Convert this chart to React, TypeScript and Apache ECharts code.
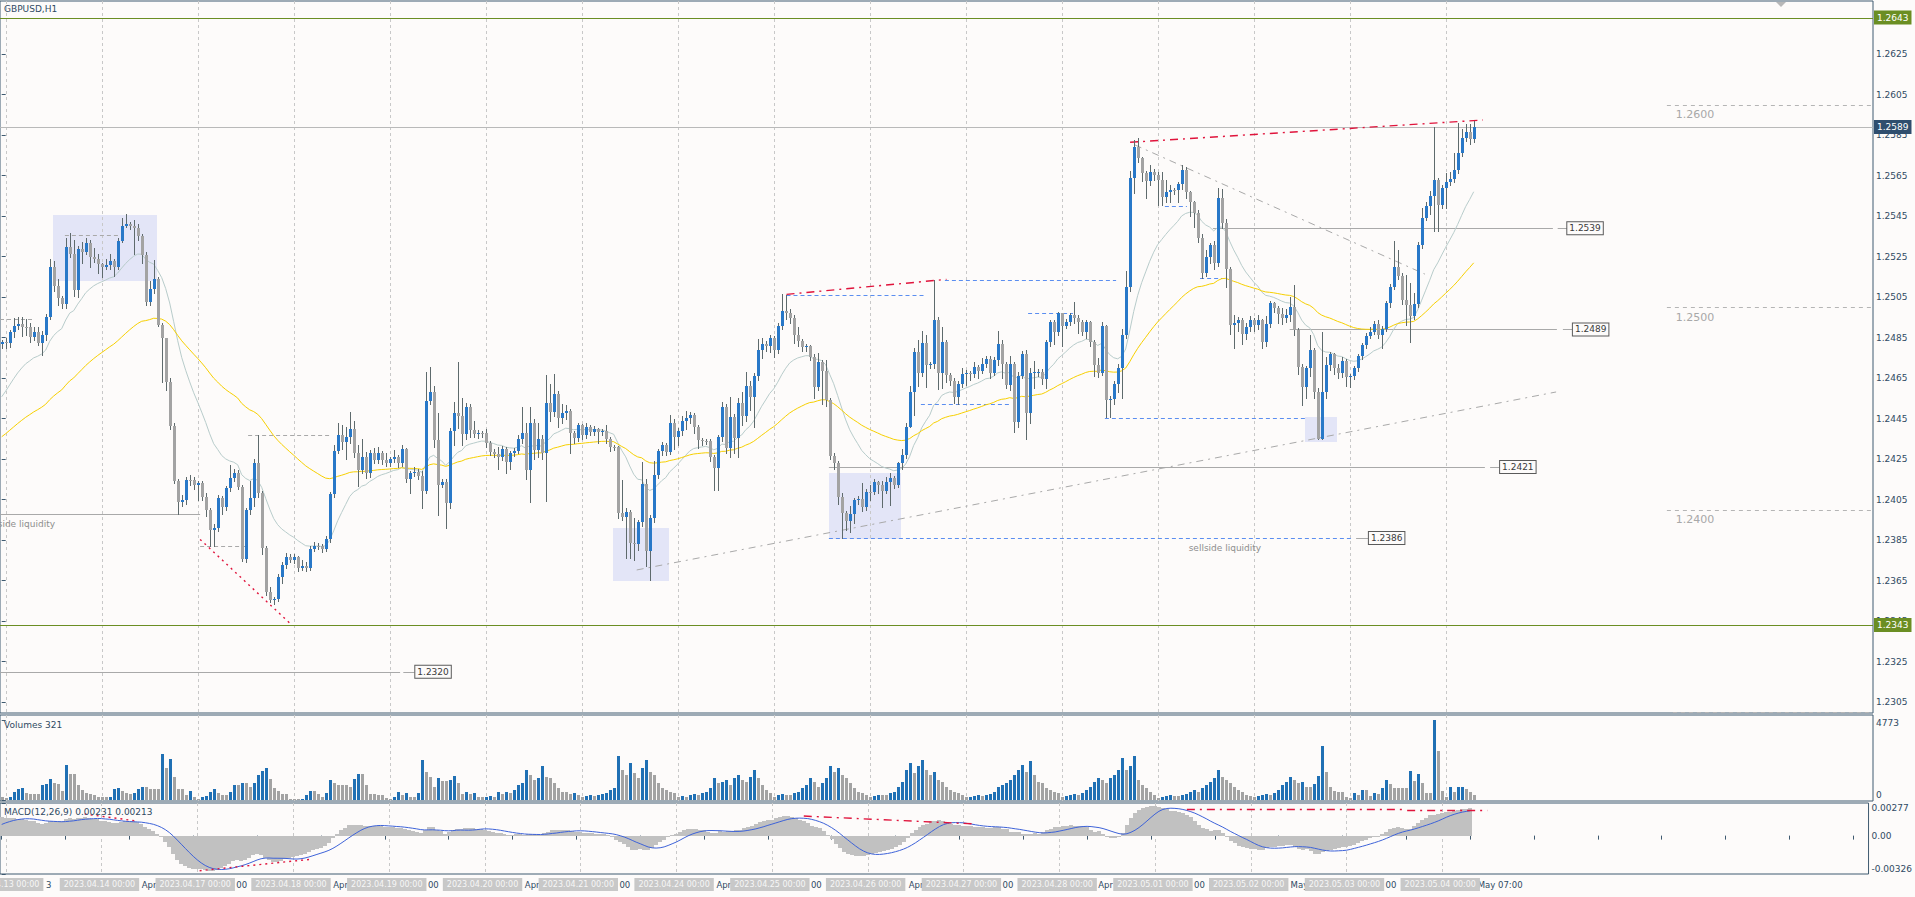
import React, { useEffect, useRef } from "react";
import * as echarts from "echarts";

// ---------------- DATA (GBPUSD H1, bar 0 = 2023.04.12 23:00) ----------------
const closes: number[] = [
  1.24830, 1.24824, 1.24879, 1.24907, 1.24917, 1.24903, 1.24900, 1.24854, 1.24879, 1.24824,
  1.24862, 1.24953, 1.25200, 1.25104, 1.25043, 1.25015, 1.25299, 1.25262, 1.25085, 1.25287,
  1.25274, 1.25318, 1.25246, 1.25239, 1.25213, 1.25200, 1.25206, 1.25229, 1.25200, 1.25328,
  1.25401, 1.25410, 1.25401, 1.25389, 1.25351, 1.25257, 1.25027, 1.25089, 1.25139, 1.24912,
  1.24846, 1.24632, 1.24415, 1.24143, 1.24039, 1.24048, 1.24146, 1.24146, 1.24122, 1.24133,
  1.24064, 1.23998, 1.23899, 1.23908, 1.24056, 1.24015, 1.24105, 1.24155, 1.24183, 1.24113,
  1.23755, 1.23998, 1.24059, 1.24229, 1.24080, 1.23809, 1.23595, 1.23554, 1.23557, 1.23666,
  1.23727, 1.23764, 1.23751, 1.23764, 1.23713, 1.23723, 1.23713, 1.23804, 1.23820, 1.23820,
  1.23804, 1.23853, 1.24077, 1.24291, 1.24369, 1.24336, 1.24361, 1.24398, 1.24278, 1.24196,
  1.24261, 1.24179, 1.24281, 1.24245, 1.24278, 1.24245, 1.24229, 1.24248, 1.24261, 1.24229,
  1.24298, 1.24151, 1.24179, 1.24187, 1.24166, 1.24094, 1.24536, 1.24582, 1.24344, 1.24122,
  1.24136, 1.24034, 1.24388, 1.24475, 1.24462, 1.24373, 1.24508, 1.24393, 1.24373, 1.24380,
  1.24378, 1.24331, 1.24286, 1.24275, 1.24258, 1.24298, 1.24237, 1.24278, 1.24290, 1.24349,
  1.24377, 1.24196, 1.24426, 1.24294, 1.24349, 1.24278, 1.24525, 1.24480, 1.24571, 1.24451,
  1.24479, 1.24487, 1.24377, 1.24352, 1.24418, 1.24368, 1.24410, 1.24385, 1.24396, 1.24385,
  1.24388, 1.24347, 1.24307, 1.24307, 1.23982, 1.23965, 1.23990, 1.23833, 1.23828, 1.23939,
  1.24125, 1.23797, 1.23960, 1.24171, 1.24289, 1.24319, 1.24286, 1.24429, 1.24360, 1.24390,
  1.24439, 1.24451, 1.24467, 1.24406, 1.24344, 1.24337, 1.24337, 1.24258, 1.24204, 1.24357,
  1.24508, 1.24303, 1.24459, 1.24352, 1.24525, 1.24464, 1.24610, 1.24558, 1.24660, 1.24788,
  1.24818, 1.24806, 1.24846, 1.24788, 1.24907, 1.24981, 1.24971, 1.24948, 1.24862, 1.24834,
  1.24805, 1.24806, 1.24755, 1.24607, 1.24727, 1.24686, 1.24541, 1.24265, 1.24229, 1.24064,
  1.23982, 1.23945, 1.23978, 1.24047, 1.24052, 1.24011, 1.24089, 1.24089, 1.24135, 1.24122,
  1.24093, 1.24138, 1.24158, 1.24122, 1.24229, 1.24270, 1.24410, 1.24582, 1.24778, 1.24676,
  1.24821, 1.24714, 1.24717, 1.24936, 1.24676, 1.24829, 1.24665, 1.24637, 1.24558, 1.24620,
  1.24670, 1.24673, 1.24670, 1.24703, 1.24686, 1.24719, 1.24742, 1.24676, 1.24739, 1.24818,
  1.24719, 1.24615, 1.24719, 1.24434, 1.24660, 1.24768, 1.24475, 1.24673, 1.24678, 1.24681,
  1.24643, 1.24829, 1.24928, 1.24879, 1.24969, 1.24907, 1.24925, 1.24961, 1.24945, 1.24928,
  1.24879, 1.24928, 1.24829, 1.24714, 1.24676, 1.24907, 1.24541, 1.24544, 1.24620, 1.24700,
  1.24862, 1.25101, 1.25639, 1.25792, 1.25735, 1.25661, 1.25623, 1.25669, 1.25654, 1.25628,
  1.25545, 1.25570, 1.25578, 1.25577, 1.25606, 1.25677, 1.25567, 1.25517, 1.25463, 1.25340,
  1.25167, 1.25249, 1.25307, 1.25216, 1.25540, 1.25414, 1.25188, 1.24912, 1.24920, 1.24936,
  1.24865, 1.24900, 1.24936, 1.24910, 1.24936, 1.24829, 1.24915, 1.25019, 1.24997, 1.24964,
  1.24948, 1.24961, 1.25002, 1.24887, 1.24706, 1.24607, 1.24698, 1.24788, 1.24582, 1.24347,
  1.24579, 1.24714, 1.24767, 1.24698, 1.24673, 1.24734, 1.24656, 1.24660, 1.24698, 1.24758,
  1.24813, 1.24857, 1.24879, 1.24915, 1.24862, 1.24892, 1.25022, 1.25101, 1.25196, 1.25155,
  1.25035, 1.25010, 1.24958, 1.25014, 1.25307, 1.25442, 1.25501, 1.25550, 1.25628, 1.25504,
  1.25590, 1.25620, 1.25633, 1.25677, 1.25759, 1.25833, 1.25866, 1.25830, 1.25891,
];
const highs: number[] = [
  1.2484, 1.2485, 1.24887, 1.24945, 1.24953, 1.2495, 1.2494, 1.2492, 1.2490, 1.2490,
  1.2488, 1.24965, 1.2524, 1.2523, 1.2514, 1.25055, 1.2534, 1.25364, 1.2533, 1.2530,
  1.2532, 1.2534, 1.2533, 1.2529, 1.2526, 1.2522, 1.2524, 1.2526, 1.2524, 1.2534,
  1.25438, 1.2546, 1.25418, 1.2543, 1.2541, 1.2536, 1.2527, 1.2513, 1.25235, 1.2515,
  1.2492, 1.2485, 1.2465, 1.2443, 1.2415, 1.2407, 1.2416, 1.2417, 1.2416, 1.2414,
  1.2414, 1.2408, 1.2401, 1.2393, 1.2407, 1.24065, 1.24115, 1.2422, 1.2420, 1.24195,
  1.2412, 1.2401, 1.2414, 1.2425, 1.2437, 1.2409, 1.2382, 1.2362, 1.2357, 1.2368,
  1.2374, 1.23785, 1.2378, 1.2378, 1.2377, 1.2375, 1.2374, 1.2382, 1.23838, 1.23835,
  1.2383, 1.2387, 1.24085, 1.24318, 1.2443, 1.2442, 1.2441, 1.24484, 1.2444, 1.2432,
  1.2435, 1.24285, 1.24295, 1.24305, 1.2431, 1.2429, 1.2428, 1.2426, 1.24295, 1.2427,
  1.2432, 1.24305, 1.2419, 1.2421, 1.2420, 1.2419, 1.24681, 1.24706, 1.2461, 1.24475,
  1.2415, 1.2415, 1.24405, 1.2453, 1.24727, 1.2455, 1.24525, 1.2452, 1.2444, 1.24395,
  1.2439, 1.2440, 1.2434, 1.2430, 1.2431, 1.24315, 1.2431, 1.2429, 1.24305, 1.2437,
  1.24505, 1.2443, 1.24505, 1.2445, 1.2443, 1.2437, 1.24665, 1.2462, 1.2467, 1.24585,
  1.2452, 1.24515, 1.24495, 1.2439, 1.2443, 1.24425, 1.2443, 1.2442, 1.24415, 1.24405,
  1.2440, 1.2442, 1.2436, 1.2432, 1.24315, 1.24145, 1.2401, 1.2400, 1.2396, 1.2395,
  1.24237, 1.2415, 1.23975, 1.2424, 1.2430, 1.24335, 1.2433, 1.24467, 1.2445, 1.24405,
  1.2446, 1.24485, 1.2448, 1.24475, 1.2442, 1.24355, 1.2435, 1.2435, 1.2427, 1.2437,
  1.2453, 1.2452, 1.24555, 1.2447, 1.2455, 1.2458, 1.2468, 1.24635, 1.24675, 1.24844,
  1.24848, 1.24835, 1.2486, 1.24855, 1.2492, 1.25063, 1.2506, 1.2499, 1.2496, 1.2490,
  1.24845, 1.2482, 1.24815, 1.2477, 1.24775, 1.2474, 1.24738, 1.2455, 1.2428, 1.2424,
  1.2408, 1.23995, 1.2402, 1.24055, 1.24065, 1.2413, 1.2410, 1.2412, 1.2415, 1.2414,
  1.24143, 1.2416, 1.2418, 1.24165, 1.24235, 1.2430, 1.2443, 1.2461, 1.2480, 1.2484,
  1.2488, 1.2486, 1.2473, 1.25134, 1.2495, 1.2490, 1.2484, 1.24675, 1.2465, 1.24635,
  1.2470, 1.2469, 1.24685, 1.2473, 1.24715, 1.2475, 1.24758, 1.2476, 1.24755, 1.2488,
  1.2484, 1.2473, 1.2476, 1.2473, 1.2468, 1.24785, 1.2479, 1.2470, 1.24735, 1.24695,
  1.24695, 1.2484, 1.24935, 1.24935, 1.24975, 1.24973, 1.2494, 1.2497, 1.25027, 1.2496,
  1.24935, 1.24935, 1.2493, 1.2484, 1.2475, 1.24925, 1.2491, 1.2456, 1.24635, 1.2472,
  1.2489, 1.2518, 1.2567, 1.25825, 1.25833, 1.2574, 1.2567, 1.2570, 1.2568, 1.25665,
  1.25665, 1.2563, 1.25605, 1.2559, 1.2562, 1.2570, 1.2569, 1.25575, 1.25525, 1.2548,
  1.2536, 1.2528, 1.25315, 1.25325, 1.25586, 1.25585, 1.25435, 1.2520, 1.24962, 1.2495,
  1.24948, 1.2492, 1.24955, 1.24945, 1.2496, 1.2494, 1.24955, 1.2503, 1.25025, 1.25005,
  1.24995, 1.2499, 1.2505, 1.2511, 1.24895, 1.2472, 1.2471, 1.2486, 1.2480, 1.2460,
  1.24879, 1.24755, 1.2478, 1.24775, 1.2472, 1.24755, 1.24745, 1.2467, 1.2471, 1.2477,
  1.24825, 1.2487, 1.2490, 1.2493, 1.24935, 1.24905, 1.2503, 1.25115, 1.25326, 1.2528,
  1.2517, 1.2516, 1.2512, 1.2507, 1.2532, 1.2549, 1.2552, 1.25575, 1.25891, 1.2564,
  1.25605, 1.2566, 1.25665, 1.2576, 1.25907, 1.2588, 1.25905, 1.25905, 1.2592,
];
const lows: number[] = [
  1.24796, 1.2480, 1.24805, 1.24854, 1.2489, 1.24855, 1.2486, 1.2483, 1.2484, 1.24815,
  1.24764, 1.2484, 1.2494, 1.2508, 1.2501, 1.24994, 1.24994, 1.2525, 1.25055, 1.2505,
  1.2522, 1.2526, 1.2520, 1.25225, 1.2517, 1.2515, 1.2519, 1.2519, 1.25155, 1.2519,
  1.2532, 1.25395, 1.25385, 1.2526, 1.2533, 1.2522, 1.2501, 1.2501, 1.2507, 1.24905,
  1.2463, 1.2459, 1.2440, 1.2413, 1.23978, 1.2402, 1.2403, 1.2412, 1.2410, 1.2405,
  1.2405, 1.2397, 1.2382, 1.2382, 1.23895, 1.2398, 1.2400, 1.2409, 1.2414, 1.2410,
  1.23745, 1.2374, 1.2398, 1.2402, 1.2406, 1.2378, 1.2358, 1.23543, 1.23535, 1.2355,
  1.2364, 1.2371, 1.2374, 1.23735, 1.23695, 1.2370, 1.23695, 1.2370, 1.23795, 1.23805,
  1.2379, 1.23795, 1.2384, 1.2406, 1.2428, 1.2430, 1.2425, 1.2433, 1.2426, 1.24115,
  1.2418, 1.24155, 1.2416, 1.2423, 1.2423, 1.24225, 1.24215, 1.24215, 1.24235, 1.2421,
  1.24215, 1.24135, 1.2408, 1.24165, 1.2415, 1.24006, 1.2408, 1.2452, 1.2431, 1.23973,
  1.2411, 1.23908, 1.2401, 1.2432, 1.24405, 1.2432, 1.2435, 1.2436, 1.2436, 1.24355,
  1.2436, 1.2431, 1.2427, 1.2426, 1.2420, 1.24245, 1.2418, 1.2420, 1.24265, 1.2428,
  1.2433, 1.2415, 1.2404, 1.2425, 1.2426, 1.2425, 1.24045, 1.2444, 1.2446, 1.2441,
  1.2443, 1.2445, 1.2428, 1.2433, 1.2434, 1.2435, 1.24355, 1.2437, 1.2437, 1.2433,
  1.2437, 1.2433, 1.2429, 1.24295, 1.2396, 1.2395, 1.2376, 1.23762, 1.2375, 1.2380,
  1.2392, 1.23722, 1.23652, 1.2394, 1.24155, 1.2427, 1.2427, 1.24275, 1.2430, 1.2432,
  1.2437, 1.2440, 1.2443, 1.2438, 1.24305, 1.2432, 1.24325, 1.2424, 1.24095, 1.24095,
  1.2434, 1.2428, 1.2426, 1.2428, 1.2426, 1.2442, 1.2444, 1.2449, 1.2441, 1.2464,
  1.2475, 1.24785, 1.2478, 1.24755, 1.24775, 1.2489, 1.2494, 1.2492, 1.24825, 1.2481,
  1.24785, 1.24785, 1.2474, 1.2455, 1.2459, 1.2452, 1.2451, 1.2425, 1.2420, 1.2403,
  1.23858, 1.2390, 1.2389, 1.23935, 1.2403, 1.23995, 1.23998, 1.2405, 1.24075, 1.2408,
  1.24015, 1.2408, 1.24025, 1.24105, 1.2411, 1.2420, 1.24255, 1.2448, 1.24468, 1.2461,
  1.2466, 1.24605, 1.2470, 1.2470, 1.24595, 1.2460, 1.2463, 1.24615, 1.24525, 1.2452,
  1.24605, 1.24615, 1.2464, 1.24655, 1.2465, 1.24675, 1.24705, 1.2465, 1.24665, 1.24715,
  1.2465, 1.2460, 1.2459, 1.24385, 1.2441, 1.2465, 1.24347, 1.2443, 1.2460, 1.2466,
  1.2462, 1.2460, 1.2481, 1.2482, 1.2486, 1.2481, 1.24895, 1.2491, 1.2492, 1.2487,
  1.2486, 1.2485, 1.2481, 1.2466, 1.24655, 1.24665, 1.24459, 1.24455, 1.2452, 1.2458,
  1.24549, 1.24846, 1.2508, 1.25565, 1.25715, 1.25625, 1.25538, 1.25605, 1.2563, 1.25504,
  1.25505, 1.2552, 1.2552, 1.2556, 1.2552, 1.25585, 1.2554, 1.2545, 1.25395, 1.2532,
  1.25145, 1.25155, 1.2522, 1.2519, 1.25205, 1.2539, 1.2510, 1.24865, 1.24796, 1.2488,
  1.2482, 1.24845, 1.2488, 1.2488, 1.2489, 1.2480, 1.2481, 1.2490, 1.24975, 1.2492,
  1.24915, 1.24925, 1.2493, 1.2486, 1.2467, 1.24516, 1.2455, 1.2466, 1.2455, 1.24347,
  1.24347, 1.2455, 1.2469, 1.2467, 1.2465, 1.24655, 1.2461, 1.24607, 1.24645, 1.24685,
  1.24745, 1.2480, 1.2485, 1.24865, 1.2485, 1.2480, 1.2488, 1.2500, 1.2509, 1.2514,
  1.25015, 1.2491, 1.24826, 1.2494, 1.2500, 1.2529, 1.2543, 1.2546, 1.25376, 1.25375,
  1.2549, 1.2549, 1.25605, 1.2562, 1.2566, 1.25745, 1.2582, 1.25805, 1.25815,
];
const firstOpen = 1.2482;

const volumes: number[] = [
  160, 100, 200, 500, 640, 700, 400, 360, 360, 360,
  900, 960, 1230, 1000, 960, 560, 2090, 1550, 1550, 900,
  600, 440, 360, 280, 200, 160, 160, 200, 640, 700,
  560, 400, 360, 440, 640, 760, 760, 680, 640, 640,
  2750, 1890, 2430, 1350, 640, 640, 300, 540, 200, 40,
  200, 240, 500, 640, 400, 300, 300, 500, 900, 900,
  1030, 1030, 760, 1030, 1490, 1750, 1890, 1230, 700, 560,
  360, 360, 60, 60, 60, 80, 300, 560, 560, 360,
  200, 400, 1190, 1030, 900, 900, 900, 760, 1230, 1550,
  1550, 900, 360, 360, 300, 300, 100, 60, 200, 460,
  300, 440, 200, 200, 400, 2390, 1690, 1350, 760, 1290,
  1150, 1150, 1190, 1430, 1000, 360, 500, 360, 400, 200,
  160, 200, 240, 160, 500, 350, 500, 400, 600, 900,
  1000, 1800, 1500, 1200, 1300, 2000, 1400, 1300, 1000, 700,
  500, 450, 350, 400, 300, 150, 250, 300, 250, 300,
  350, 400, 600, 700, 2600, 1800, 1500, 2200, 1600, 1300,
  1900, 2400, 1700, 1500, 1000, 700, 600, 500, 400, 200,
  250, 200, 300, 350, 300, 400, 500, 700, 1300, 1000,
  1100, 1200, 900, 1300, 1500, 1200, 1100, 1400, 1800, 1300,
  900, 600, 400, 150, 300, 350, 300, 300, 400, 500,
  700, 900, 1300, 1100, 800, 1000, 1300, 2000, 1700, 1900,
  1500, 1300, 1000, 700, 500, 400, 300, 150, 250, 300,
  300, 300, 400, 500, 800, 1100, 1800, 2200, 1600, 2000,
  2400, 1800, 1500, 1700, 1200, 1100, 800, 600, 500, 400,
  300, 150, 200, 250, 300, 250, 300, 350, 500, 800,
  900, 1000, 1200, 1500, 1800, 2100, 1700, 2300, 1500, 1100,
  1000, 700, 600, 500, 400, 150, 250, 300, 350, 300,
  400, 600, 800, 1100, 1300, 1200, 1000, 1300, 1500, 1800,
  2500, 1800, 2000, 2600, 1200, 900, 700, 500, 300, 100,
  200, 250, 300, 250, 250, 300, 350, 500, 600, 500,
  700, 900, 1100, 1300, 1800, 1400, 1200, 1000, 800, 600,
  500, 300, 250, 150, 250, 300, 350, 300, 400, 600,
  900, 1100, 1400, 1200, 1000, 1090, 800, 800, 950, 1430,
  3240, 1690, 800, 540, 500, 500, 200, 140, 440, 300,
  600, 600, 260, 400, 360, 740, 1190, 950, 740, 740,
  740, 740, 1750, 1150, 1550, 1000, 440, 440, 4773, 2950,
  540, 200, 800, 500, 760, 800, 640, 500, 321,
];

const maFastInit = 1.24525;
const maSlowInit = 1.24344;
const ema12Init = 1.2474;
const ema26Init = 1.2458;
const macdSeed = [0.0003, 0.0005, 0.0006, 0.0008, 0.001, 0.0011, 0.0013, 0.0014];

// axes / labels
const priceTicks = [1.2305, 1.2325, 1.2345, 1.2365, 1.2385, 1.2405, 1.2425, 1.2445, 1.2465, 1.2485, 1.2505, 1.2525, 1.2545, 1.2565, 1.2585, 1.2605, 1.2625];
const volTicks = [0, 4773];
const volTickTexts = ["0", "4773"];
const macdTicks = [-0.00326, 0, 0.00277];
const macdTickTexts = ["-0.00326", "0.00", "0.00277"];
const dayStartBars = [1, 25, 49, 73, 97, 121, 145, 169, 193, 217, 241, 265, 289, 313, 337, 361];
const dayLabels = ["2023.04.13 00:00", "2023.04.14 00:00", "2023.04.17 00:00", "2023.04.18 00:00", "2023.04.19 00:00", "2023.04.20 00:00", "2023.04.21 00:00", "2023.04.24 00:00", "2023.04.25 00:00", "2023.04.26 00:00", "2023.04.27 00:00", "2023.04.28 00:00", "2023.05.01 00:00", "2023.05.02 00:00", "2023.05.03 00:00", "2023.05.04 00:00"];
const timeTickBars = [0, 16, 32, 48, 64, 80, 96, 112, 128, 144, 160, 176, 192, 208, 224, 240, 256, 272, 288, 304, 320, 336, 352, 368, 384, 400, 416, 432, 448, 464];
const fragBars = [11.1, 35.1, 58.8, 83.1, 106.8, 131.1, 154.8, 179.1, 202.8, 227.3, 250.8, 274.8, 298.8, 323.0, 346.8, 369.9];
const fragTexts = ["3", "Apr", "00", "Apr", "00", "Apr", "00", "Apr", "00", "Apr", "00", "Apr", "00", "May", "00", "May 07:00"];

// drawn objects: [bar1, price1, bar2, price2, style]
const segments: number[][] = [
  [-0.425, 1.2643, 467.825, 1.2643, 4],
  [-0.425, 1.2343, 467.825, 1.2343, 4],
  [-0.425, 1.2589, 467.825, 1.2589, 8],
  [302.8, 1.2539, 387.8, 1.2539, 0], [389, 1.2539, 391.3, 1.2539, 0],
  [322, 1.2489, 388.8, 1.2489, 0], [390.3, 1.2489, 392.6, 1.2489, 0],
  [206.8, 1.2421, 370.8, 1.2421, 0], [372.1, 1.2421, 374.4, 1.2421, 0],
  [206.8, 1.2386, 337.6, 1.2386, 2], [338.6, 1.2386, 341.6, 1.2386, 0],
  [-0.425, 1.232, 99.6, 1.232, 0], [100.4, 1.232, 103.2, 1.232, 0],
  [-0.425, 1.23978, 49.6, 1.23978, 0],
  [416.3, 1.26, 467.825, 1.26, 7], [416.3, 1.25, 467.825, 1.25, 7],
  [416.3, 1.24, 467.825, 1.24, 7], [417.8, 1.23, 467.825, 1.23, 7],
  [15.8, 1.25356, 29.6, 1.25356, 1], [-0.425, 1.24941, 7.8, 1.24941, 1],
  [61.6, 1.24368, 82.1, 1.24368, 1], [49.6, 1.2382, 61.3, 1.2382, 1],
  [49.6, 1.23853, 72, 1.2344, 6],
  [196.2, 1.25063, 236.2, 1.25137, 3],
  [282.1, 1.25814, 370.3, 1.25924, 3],
  [158.75, 1.23702, 388.6, 1.24581, 5],
  [283.3, 1.25801, 355.8, 1.25163, 5],
  [196.2, 1.2506, 231.2, 1.2506, 2], [235.8, 1.25134, 278.6, 1.25134, 2],
  [229.8, 1.2452, 252.5, 1.2452, 2], [256.6, 1.24973, 267.8, 1.24973, 2],
  [275.8, 1.24451, 325.8, 1.24451, 2], [290.8, 1.25499, 296.3, 1.25499, 2],
  [299.6, 1.25144, 305.1, 1.25144, 2],
];
const zones: number[][] = [
  [12.75, 1.25455, 38.75, 1.2513],
  [152.75, 1.23911, 166.8, 1.23649],
  [206.8, 1.24182, 224.8, 1.23858],
  [325.9, 1.24456, 333.8, 1.24331],
];
const macdSegments: number[][] = [
  [20.8, 0.00183, 33.3, 0.00127, 6],
  [49.6, -0.00298, 77.5, -0.00201, 6],
  [201, 0.00166, 244, 0.00099, 3],
  [297, 0.00223, 351.5, 0.00223, 3],
  [352.2, 0.00215, 372.3, 0.00215, 3],
];
const levelBoxes = [
  { bar: 391.4, price: 1.2539, text: "1.2539" },
  { bar: 392.8, price: 1.2489, text: "1.2489" },
  { bar: 374.6, price: 1.2421, text: "1.2421" },
  { bar: 341.8, price: 1.2386, text: "1.2386" },
  { bar: 103.4, price: 1.232, text: "1.2320" },
];
const roundLevels = [1.26, 1.25, 1.24];

// ---------------- STYLE ----------------
const FONT = "'DejaVu Sans', Verdana, sans-serif";
const BG = "#fdfbfa";
const BORDER = "#3f5a70";
const AXIS_TEXT = "#2f4a63";
const UP = "#2878c8";
const DOWN = "#a3a3a3";
const WICK = "#5e6a6c";
const VOL_UP = "#2070b4";
const SEG_STYLES = [
  { c: "#a9a9a9", w: 1, d: null },
  { c: "#a9a9a9", w: 1, d: [4, 3] },
  { c: "#5b8ef0", w: 1, d: [4, 3] },
  { c: "#e0143c", w: 1.4, d: [8, 5, 2, 5] },
  { c: "#6b8e23", w: 1, d: null },
  { c: "#a9a9a9", w: 1, d: [7, 5, 2, 5] },
  { c: "#e0143c", w: 1.4, d: [2, 4] },
  { c: "#b5b5b5", w: 1, d: [4, 4] },
  { c: "#b9b9b9", w: 1, d: null },
];
const XMIN = -0.425;
const XMAX = 467.825;

function ema(src: number[], period: number, init: number) {
  const a = 2 / (period + 1);
  let p = init;
  return src.map((v) => (p = p + a * (v - p)));
}

function nearestText(v: number, vals: number[], texts: string[]) {
  let best = 0;
  for (let k = 1; k < vals.length; k++) {
    if (Math.abs(vals[k] - v) < Math.abs(vals[best] - v)) best = k;
  }
  return texts[best];
}

export default function App() {
  const ref = useRef<HTMLDivElement>(null);
  useEffect(() => {
    const el = ref.current!;
    const chart = echarts.init(el, null, { renderer: "svg" });

    const opens = closes.map((c, i) => (i === 0 ? firstOpen : closes[i - 1]));
    const candleData = closes.map((c, i) => [i, opens[i], c, Math.min(lows[i], opens[i], c), Math.max(highs[i], opens[i], c)]);
    const maFast = ema(closes, 18, maFastInit);
    const maSlow = ema(closes, 60, maSlowInit);
    const e12 = ema(closes, 12, ema12Init);
    const e26 = ema(closes, 26, ema26Init);
    const macd = e12.map((v, i) => v - e26[i]);
    const all = macdSeed.concat(macd);
    const signal = macd.map((_, i) => {
      let s = 0;
      for (let k = 0; k < 9; k++) s += all[i + macdSeed.length - k];
      return s / 9;
    });
    const volData = volumes.map((v, i) => [i, v, i > 0 && v > volumes[i - 1] ? 1 : 0]);

    // keep the edge labels of the lower panels inside their panels
    const VOL_PX = (5071 + 60) / 86;
    const MACD_PX = (0.00277 + 0.00326) / 71;
    const volLabelVals = [volTicks[0] + 5 * VOL_PX, volTicks[1] - 3 * VOL_PX];
    const macdLabelVals = [macdTicks[0] + 5 * MACD_PX, macdTicks[1], macdTicks[2] - 5 * MACD_PX];

    const dayLineSeries = (g: number, yv: number) => ({
      type: "custom",
      xAxisIndex: g,
      yAxisIndex: g,
      silent: true,
      z: 1,
      data: dayStartBars.map((b) => [b, yv]),
      encode: { x: 0, y: 1 },
      renderItem: (params: any, api: any) => {
        const x = Math.round(api.coord([api.value(0), api.value(1)])[0]) + 0.5;
        const cs = params.coordSys;
        return {
          type: "line",
          shape: { x1: x, y1: cs.y, x2: x, y2: cs.y + cs.height },
          style: { stroke: "#c8c8c8", lineWidth: 1, lineDash: [3, 3] },
        };
      },
    });
    const segSeries = (g: number, data: number[][], z: number) => ({
      type: "custom",
      xAxisIndex: g,
      yAxisIndex: g,
      silent: true,
      clip: true,
      z,
      data,
      encode: { x: [0, 2], y: [1, 3] },
      renderItem: (params: any, api: any) => {
        const st = SEG_STYLES[api.value(4)];
        const p1 = api.coord([api.value(0), api.value(1)]);
        const p2 = api.coord([api.value(2), api.value(3)]);
        let y1 = p1[1], y2 = p2[1];
        if (Math.abs(y1 - y2) < 0.01) { y1 = y2 = Math.round(y1) + 0.5; }
        return {
          type: "line",
          shape: { x1: p1[0], y1, x2: p2[0], y2 },
          style: { stroke: st.c, lineWidth: st.w, lineDash: st.d || undefined, fill: null },
        };
      },
    });

    const xAxes = [0, 1, 2].map((g) => ({
      type: "value",
      gridIndex: g,
      min: XMIN,
      max: XMAX,
      axisLine: { show: false },
      splitLine: { show: false },
      axisTick: g === 2
        ? { show: true, customValues: timeTickBars, length: 4, lineStyle: { color: BORDER } }
        : { show: false },
      axisLabel: { show: false },
    }));
    const yAxisBase = (g: number, min: number, max: number, ticks: number[], labelVals: number[], fmt: (v: number) => string) => ({
      type: "value",
      gridIndex: g,
      position: "right",
      min,
      max,
      axisLine: { show: false },
      splitLine: { show: false },
      axisTick: { show: true, customValues: ticks, length: 4, lineStyle: { color: BORDER } },
      axisLabel: { show: true, customValues: labelVals, formatter: fmt, fontFamily: FONT, fontSize: 9, color: AXIS_TEXT, margin: 3 },
    });

    const option: any = {
      animation: false,
      backgroundColor: BG,
      grid: [
        { left: 0, top: 1, width: 1873, height: 712, show: true, borderColor: BORDER, borderWidth: 1, backgroundColor: "transparent" },
        { left: 0, top: 715, width: 1873, height: 86, show: true, borderColor: BORDER, borderWidth: 1, backgroundColor: "transparent" },
        { left: 0, top: 803, width: 1873, height: 71, show: true, borderColor: BORDER, borderWidth: 1, backgroundColor: "transparent" },
      ],
      xAxis: xAxes,
      yAxis: [
        yAxisBase(0, 1.2299568, 1.2651173, priceTicks, priceTicks, (v) => v.toFixed(4)),
        yAxisBase(1, -60, 5071, volTicks, volLabelVals, (v) => nearestText(v, volLabelVals, volTickTexts)),
        yAxisBase(2, -0.00326, 0.00277, macdTicks, macdLabelVals, (v) => nearestText(v, macdLabelVals, macdTickTexts)),
      ],
      series: [
        {
          type: "custom",
          xAxisIndex: 0,
          yAxisIndex: 0,
          silent: true,
          z: 0,
          data: zones,
          encode: { x: [0, 2], y: [1, 3] },
          renderItem: (params: any, api: any) => {
            const a = api.coord([api.value(0), api.value(1)]);
            const b = api.coord([api.value(2), api.value(3)]);
            return {
              type: "rect",
              shape: { x: Math.round(a[0]), y: Math.round(a[1]), width: Math.round(b[0] - a[0]), height: Math.round(b[1] - a[1]) },
              style: { fill: "#e3e5f7" },
            };
          },
        },
        dayLineSeries(0, 1.245),
        dayLineSeries(1, 1000),
        dayLineSeries(2, 0),
        segSeries(0, segments, 2),
        {
          type: "line",
          xAxisIndex: 0,
          yAxisIndex: 0,
          data: maFast.map((v, i) => [i, v]),
          showSymbol: false,
          silent: true,
          z: 3,
          lineStyle: { color: "#b8cccb", width: 1 },
        },
        {
          type: "line",
          xAxisIndex: 0,
          yAxisIndex: 0,
          data: maSlow.map((v, i) => [i, v]),
          showSymbol: false,
          silent: true,
          z: 3,
          lineStyle: { color: "#f7d000", width: 1 },
        },
        {
          type: "custom",
          xAxisIndex: 0,
          yAxisIndex: 0,
          silent: true,
          clip: true,
          z: 4,
          data: candleData,
          encode: { x: 0, y: [1, 2, 3, 4] },
          renderItem: (params: any, api: any) => {
            const i = api.value(0), o = api.value(1), c = api.value(2), l = api.value(3), h = api.value(4);
            const po = api.coord([i, o]);
            const yc = api.coord([i, c])[1];
            const yl = api.coord([i, l])[1];
            const yh = api.coord([i, h])[1];
            const cx = Math.round(po[0]);
            const top = Math.round(Math.min(po[1], yc));
            const bot = Math.round(Math.max(po[1], yc));
            return {
              type: "group",
              children: [
                { type: "line", shape: { x1: cx + 0.5, y1: Math.round(yh), x2: cx + 0.5, y2: Math.round(yl) + 1 }, style: { stroke: WICK, lineWidth: 1 } },
                { type: "rect", shape: { x: cx - 1, y: top, width: 3, height: Math.max(1, bot - top) }, style: { fill: c > o ? UP : DOWN } },
              ],
            };
          },
        },
        {
          type: "custom",
          xAxisIndex: 1,
          yAxisIndex: 1,
          silent: true,
          clip: true,
          z: 3,
          data: volData,
          encode: { x: 0, y: 1 },
          renderItem: (params: any, api: any) => {
            const p0 = api.coord([api.value(0), 0]);
            const p1 = api.coord([api.value(0), api.value(1)]);
            const cx = Math.round(p0[0]);
            const y0 = Math.round(p0[1]);
            const y1 = Math.round(p1[1]);
            return {
              type: "rect",
              shape: { x: cx - 1, y: y1, width: 3, height: Math.max(1, y0 - y1) },
              style: { fill: api.value(2) ? VOL_UP : DOWN },
            };
          },
        },
        {
          type: "custom",
          xAxisIndex: 2,
          yAxisIndex: 2,
          silent: true,
          clip: true,
          z: 3,
          data: macd.map((v, i) => [i, v]),
          encode: { x: 0, y: 1 },
          renderItem: (params: any, api: any) => {
            const p0 = api.coord([api.value(0), 0]);
            const p1 = api.coord([api.value(0), api.value(1)]);
            const cx = Math.round(p0[0]);
            const a = Math.round(Math.min(p0[1], p1[1]));
            const b = Math.round(Math.max(p0[1], p1[1]));
            return {
              type: "rect",
              shape: { x: cx - 2, y: a, width: 4, height: Math.max(1, b - a) },
              style: { fill: "#c1c1c1" },
            };
          },
        },
        {
          type: "line",
          xAxisIndex: 2,
          yAxisIndex: 2,
          data: signal.map((v, i) => [i, v]),
          showSymbol: false,
          silent: true,
          z: 4,
          lineStyle: { color: "#3d62d8", width: 1 },
        },
        segSeries(2, macdSegments, 5),
      ],
    };
    chart.setOption(option);

    const X = (b: number) => chart.convertToPixel({ xAxisIndex: 0 }, b) as number;
    const Y = (p: number) => chart.convertToPixel({ yAxisIndex: 0 }, p) as number;
    const XB = (b: number) => chart.convertToPixel({ xAxisIndex: 2 }, b) as number;
    const txt = (x: number, y: number, text: string, extra: any = {}) => ({
      type: "text",
      x,
      y,
      z: 50,
      silent: true,
      style: { text, fill: AXIS_TEXT, font: `9px ${FONT}`, textVerticalAlign: "middle", verticalAlign: "middle", ...extra },
    });
    const boxText = (x: number, y: number, text: string, fill: string, bg: string, border: string, extra: any = {}) =>
      txt(x, y, text, { fill, backgroundColor: bg, borderColor: border, borderWidth: 1, padding: [2, 2, 1, 2], ...extra });

    const graphics: any[] = [
      txt(4, 9, "GBPUSD,H1"),
      txt(4, 725, "Volumes 321"),
      txt(4, 812, "MACD(12,26,9) 0.00231 0.00213"),
      txt(X(305.8), Y(1.2386) + 10, "sellside liquidity", { fill: "#8e8e8e", align: "center", textAlign: "center" }),
      txt(55, Y(1.23978) + 10, "sellside liquidity", { fill: "#8e8e8e", align: "right", textAlign: "right" }),
      ...roundLevels.map((p) => txt(X(418.5), Y(p) + 10, p.toFixed(4), { fill: "#a8a8a8", font: `11px ${FONT}` })),
      ...levelBoxes.map((b) => boxText(X(b.bar), Y(b.price), b.text, "#3a3a3a", BG, "#5a5a5a")),
      boxText(1875, Y(1.2643), "1.2643", "#ffffff", "#6b8e23", "#6b8e23"),
      boxText(1875, Y(1.2589), "1.2589", "#ffffff", "#2f4e6e", "#2f4e6e"),
      boxText(1875, Y(1.2343), "1.2343", "#ffffff", "#6b8e23", "#6b8e23"),
      ...fragBars.map((b, k) => txt(XB(b), 884.5, fragTexts[k], { font: `8.5px ${FONT}` })),
      ...dayStartBars.map((b, k) =>
        boxText(XB(b) - 2, 884.5, dayLabels[k], "#f7f7f7", "#c8c8c8", "#c8c8c8", {
          font: `8px ${FONT}`,
          align: "center",
          textAlign: "center",
          padding: [2, 3, 1, 3],
        })
      ),
      { type: "polygon", silent: true, z: 50, shape: { points: [[1776, 2], [1786, 2], [1781, 7]] }, style: { fill: "#b8b8b8" } },
    ];
    chart.setOption({ graphic: graphics });

    return () => chart.dispose();
  }, []);
  return (
    <div
      ref={ref}
      style={{ position: "fixed", left: 0, top: 0, width: 1915, height: 897, background: BG }}
    />
  );
}
